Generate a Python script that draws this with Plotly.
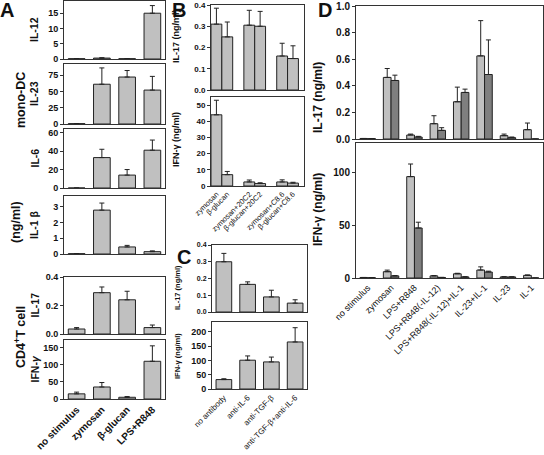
import plotly.graph_objects as go

W, H = 544, 455
LIGHT = "#c0c0c0"
DARK = "#7f7f7f"
EDGE = "#222222"
FONT = "Liberation Sans, Arial, sans-serif"

# ---------------- data ----------------
a_cats = ["no stimulus", "zymosan", "β-glucan", "LPS+R848"]
a_il12 = [0.1, 0.3, 0.1, 15.0]
a_il12_err = [0.0, 0.1, 0.0, 2.5]
a_il23 = [0.5, 61, 72, 52]
a_il23_err = [0, 25, 10, 21]
a_il6 = [0, 33, 14, 41]
a_il6_err = [0, 9, 6, 11]
a_il1b = [0.02, 2.8, 0.45, 0.15]
a_il1b_err = [0, 0.45, 0.1, 0.05]
a_il17 = [0.035, 0.29, 0.24, 0.045]
a_il17_err = [0.01, 0.04, 0.06, 0.018]
a_ifng = [15, 35, 5, 110]
a_ifng_err = [5, 13, 2, 45]

b_groups = ["none", "20C2", "C8.6"]
b_labels = ["zymosan", "β-glucan", "zymosan+20C2", "β-glucan+20C2", "zymosan+C8.6", "β-glucan+C8.6"]
b_il17_zym = [0.31, 0.305, 0.16]
b_il17_zym_err = [0.075, 0.07, 0.06]
b_il17_glu = [0.25, 0.30, 0.148]
b_il17_glu_err = [0.07, 0.07, 0.06]
b_ifng_zym = [44, 2.5, 2.5]
b_ifng_zym_err = [9, 1.2, 1.3]
b_ifng_glu = [7, 1.5, 1.8]
b_ifng_glu_err = [2, 0.5, 0.5]

c_cats = ["no antibody", "anti-IL-6", "anti-TGF-β", "anti-TGF-β+anti-IL-6"]
c_il17 = [0.30, 0.165, 0.09, 0.053]
c_il17_err = [0.05, 0.015, 0.04, 0.02]
c_ifng = [33, 101, 95, 165]
c_ifng_err = [3, 15, 17, 50]

d_cats = ["no stimulus", "zymosan", "LPS+R848", "LPS+R848(-IL-12)",
          "LPS+R848(-IL-12)+IL-1", "IL-23+IL-1", "IL-23", "IL-1"]
d_il17_a = [0.004, 0.463, 0.03, 0.115, 0.28, 0.625, 0.025, 0.07]
d_il17_a_err = [0.0, 0.067, 0.007, 0.06, 0.11, 0.265, 0.012, 0.05]
d_il17_b = [0.003, 0.44, 0.015, 0.065, 0.35, 0.485, 0.01, 0.0]
d_il17_b_err = [0.0, 0.04, 0.005, 0.02, 0.025, 0.26, 0.005, 0.0]
d_ifng_a = [0.5, 6, 96.5, 2, 4, 7.6, 1, 2.5]
d_ifng_a_err = [0, 1.5, 12, 0.3, 0.5, 3, 0.2, 0.4]
d_ifng_b = [0.3, 2, 47.6, 0.5, 1, 5.7, 1, 0]
d_ifng_b_err = [0, 0.3, 5.5, 0.1, 0.2, 0.8, 0.1, 0]

# ---------------- helpers ----------------
fig = go.Figure()
layout = {}
n_ax = [0]


def new_axes(px_box, yrange, ytickvals, ytickfmt=None, ytickfont=None,
             xcats=None, xrange=None, xtickvals=None, xticktext=None,
             show_xlabels=False, xtickfont=None):
    n_ax[0] += 1
    i = n_ax[0]
    x0, y0, x1, y1 = px_box
    xs = "" if i == 1 else str(i)
    common = dict(showline=True, mirror=True, linecolor="#333", linewidth=1,
                  showgrid=False, zeroline=False, automargin=False,
                  ticklabeloverflow="allow")
    xa = dict(common, domain=[x0 / W, x1 / W], anchor="y" + xs, ticks="",
              showticklabels=show_xlabels, tickangle=-45,
              tickfont=xtickfont or dict(family=FONT, size=9, color="#111"))
    if xcats is not None:
        xa.update(type="category", categoryorder="array", categoryarray=xcats)
    else:
        xa.update(range=xrange, tickmode="array", tickvals=xtickvals, ticktext=xticktext)
    ya = dict(common, domain=[1 - y1 / H, 1 - y0 / H], anchor="x" + xs,
              range=yrange, tickmode="array", tickvals=ytickvals,
              ticks="outside", ticklen=3, tickcolor="#333",
              tickfont=ytickfont or dict(family=FONT, size=9, color="#111", weight="bold"))
    if ytickfmt:
        ya["tickformat"] = ytickfmt
    layout["xaxis" + xs] = xa
    layout["yaxis" + xs] = ya
    return "x" + xs, "y" + xs


def bars(xref, yref, x, y, err, color=LIGHT, offsetgroup=None):
    fig.add_trace(go.Bar(
        x=x, y=y, xaxis=xref, yaxis=yref, marker=dict(color=color, line=dict(color=EDGE, width=1)),
        offsetgroup=offsetgroup, showlegend=False,
        error_y=dict(type="data", array=err, arrayminus=[0] * len(err), symmetric=False,
                     color=EDGE, thickness=1, width=2.5)))


annotations = []


def text(x, y, s, size, angle=-90, bold=True, xanchor="center", yanchor="middle"):
    annotations.append(dict(x=x / W, y=1 - y / H, xref="paper", yref="paper", text=s,
                            showarrow=False, textangle=angle, xanchor=xanchor, yanchor=yanchor,
                            font=dict(family=FONT, size=size, color="#111",
                                      weight="bold" if bold else "normal")))


# ---------------- panel A ----------------
A_X0, A_X1 = 64, 165
a_panels = [
    ("IL-12", (1, 59), [0, 19], [0, 5, 10, 15], None, a_il12, a_il12_err),
    ("IL-23", (64, 124), [0, 92], [0, 25, 50, 75], None, a_il23, a_il23_err),
    ("IL-6", (129, 188), [0, 64], [0, 20, 40, 60], None, a_il6, a_il6_err),
    ("IL-1 β", (196, 254), [0, 3.7], [0, 1, 2, 3], None, a_il1b, a_il1b_err),
    ("IL-17", (277, 334), [0, 0.4], [0, 0.2, 0.4], ".1f", a_il17, a_il17_err),
    ("IFN-<i>γ</i>", (340, 399), [0, 172], [0, 50, 100, 150], None, a_ifng, a_ifng_err),
]
for k, (name, (t, b), yr, tv, fmt, vals, errs) in enumerate(a_panels):
    last = k == len(a_panels) - 1
    xr, yr_ = new_axes((A_X0, t, A_X1, b), yr, tv, ytickfmt=fmt, xcats=a_cats,
                       show_xlabels=last,
                       xtickfont=dict(family=FONT, size=10, color="#111", weight="bold"))
    bars(xr, yr_, a_cats, vals, errs)
    text(34, (t + b) / 2, name, 10.5)

text(21, 100, "mono-DC", 12.5)
text(16, 222, "(ng/ml)", 12.5)
text(20, 337, "CD4<sup>+</sup>T cell", 12.5)

# ---------------- panel B ----------------
B_X0, B_X1 = 211, 304
b_x = list(range(len(b_groups)))
b_tickvals = [g + d for g in b_x for d in (-0.16, 0.16)]
b_tf = dict(family=FONT, size=8, color="#111", weight="bold")
xr, yr_ = new_axes((B_X0, 5, B_X1, 90), [0, 0.4], [0, 0.1, 0.2, 0.3, 0.4], ytickfmt=".1f",
                   ytickfont=b_tf, xrange=[-0.33, 2.5], xtickvals=b_tickvals, xticktext=b_labels)
bars(xr, yr_, b_x, b_il17_zym, b_il17_zym_err, offsetgroup="z")
bars(xr, yr_, b_x, b_il17_glu, b_il17_glu_err, offsetgroup="g")
xr, yr_ = new_axes((B_X0, 97, B_X1, 186), [0, 55], [0, 10, 20, 30, 40, 50],
                   ytickfont=b_tf, xrange=[-0.33, 2.5], xtickvals=b_tickvals, xticktext=b_labels,
                   show_xlabels=True, xtickfont=dict(family=FONT, size=7.5, color="#111"))
bars(xr, yr_, b_x, b_ifng_zym, b_ifng_zym_err, offsetgroup="z")
bars(xr, yr_, b_x, b_ifng_glu, b_ifng_glu_err, offsetgroup="g")
text(176, 36, "IL-17 (ng/ml)", 9)
text(176, 140, "IFN-γ (ng/ml)", 9)

# ---------------- panel C ----------------
C_X0, C_X1 = 212, 307
c_tf = dict(family=FONT, size=7, color="#111", weight="bold")
xr, yr_ = new_axes((C_X0, 245, C_X1, 312), [0, 0.4], [0, 0.1, 0.2, 0.3, 0.4], ytickfmt=".1f",
                   ytickfont=c_tf, xcats=c_cats)
bars(xr, yr_, c_cats, c_il17, c_il17_err)
xr, yr_ = new_axes((C_X0, 322, C_X1, 389), [0, 235], [0, 50, 100, 150, 200],
                   ytickfont=dict(family=FONT, size=9, color="#111", weight="bold"),
                   xcats=c_cats, show_xlabels=True,
                   xtickfont=dict(family=FONT, size=8, color="#111"))
bars(xr, yr_, c_cats, c_ifng, c_ifng_err)
text(177, 288, "IL-17 (ng/ml)", 7.5)
text(177, 356, "IFN-γ (ng/ml)", 7.5)

# ---------------- panel D ----------------
D_X0, D_X1 = 356, 543
d_tf = dict(family=FONT, size=10, color="#111", weight="bold")
xr, yr_ = new_axes((D_X0, 6, D_X1, 139), [0, 1.0], [0, 0.2, 0.4, 0.6, 0.8, 1.0], ytickfmt=".1f",
                   ytickfont=d_tf, xcats=d_cats)
bars(xr, yr_, d_cats, d_il17_a, d_il17_a_err, LIGHT, "a")
bars(xr, yr_, d_cats, d_il17_b, d_il17_b_err, DARK, "b")
xr, yr_ = new_axes((D_X0, 143, D_X1, 278), [0, 128.5], [0, 50, 100],
                   ytickfont=d_tf, xcats=d_cats, show_xlabels=True,
                   xtickfont=dict(family=FONT, size=9, color="#111"))
bars(xr, yr_, d_cats, d_ifng_a, d_ifng_a_err, LIGHT, "a")
bars(xr, yr_, d_cats, d_ifng_b, d_ifng_b_err, DARK, "b")
text(318, 98, "IL-17 (ng/ml)", 12)
text(318, 210, "IFN-γ (ng/ml)", 12)

# ---------------- panel letters ----------------
text(7, 10, "A", 20, angle=0)
text(179, 10, "B", 20, angle=0)
text(184, 257, "C", 20, angle=0)
text(325, 10, "D", 20, angle=0)

fig.update_layout(**layout)
fig.update_layout(width=W, height=H, margin=dict(l=0, r=0, t=0, b=0, autoexpand=False),
                  paper_bgcolor="white", plot_bgcolor="white",
                  barmode="group", bargap=0.34, bargroupgap=0,
                  annotations=annotations, font=dict(family=FONT))
fig.write_html("out.html", config={"displayModeBar": False},
               post_script="document.body.style.margin='0';document.body.style.overflow='hidden';")
